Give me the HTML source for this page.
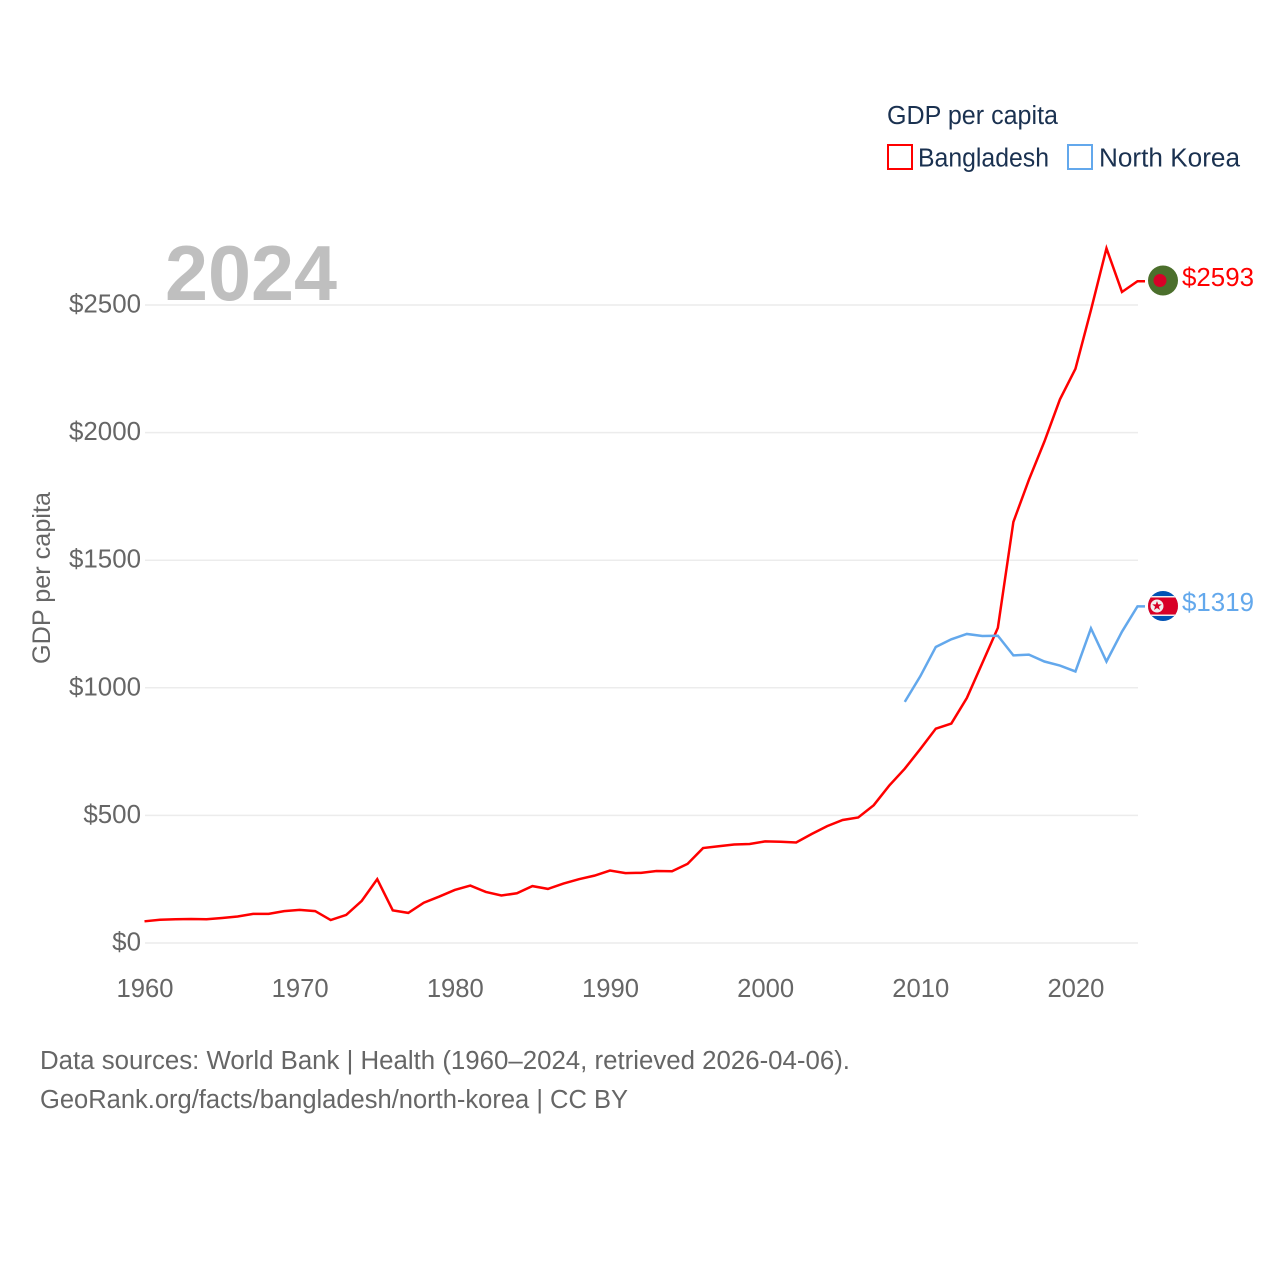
<!DOCTYPE html>
<html lang="en">
<head>
<meta charset="utf-8">
<title>GDP per capita: Bangladesh and North Korea</title>
<style>
html,body{margin:0;padding:0;background:#fff}
svg{display:block}
text{font-family:"Liberation Sans",sans-serif}
</style>
</head>
<body>
<svg id="chart" xmlns="http://www.w3.org/2000/svg" width="1280" height="1280" viewBox="0 0 1280 1280">
  <rect width="1280" height="1280" fill="#fff"/>
  <g id="grid"></g>
  <g id="yticks"></g>
  <g id="xticks"></g>
  <text x="165" y="300" font-size="78" font-weight="700" fill="#bfbfbf" textLength="172" lengthAdjust="spacingAndGlyphs">2024</text>
  <text transform="translate(50,664) rotate(-90)" font-size="25" fill="#666" textLength="172" lengthAdjust="spacingAndGlyphs">GDP per capita</text>
  <g id="series"></g>

  <g>
    <circle cx="1163" cy="280.5" r="15" fill="#4b6f2c"/>
    <circle cx="1160" cy="280.5" r="6.5" fill="#d80027"/>
  </g>
  <g>
    <clipPath id="nk-clip"><circle cx="1163" cy="606" r="15"/></clipPath>
    <g clip-path="url(#nk-clip)">
      <rect x="1148" y="591" width="30" height="30" fill="#0052b4"/>
      <rect x="1148" y="596" width="30" height="20" fill="#f0f0f0"/>
      <rect x="1148" y="597.5" width="30" height="17" fill="#d80027"/>
    </g>
    <circle cx="1157" cy="606" r="6.5" fill="#f0f0f0"/>
    <polygon points="1157,601 1158.2,604.4 1161.8,604.4 1158.9,606.6 1160,610 1157,608 1154,610 1155.1,606.6 1152.2,604.4 1155.8,604.4" fill="#d80027"/>
  </g>
  <text x="1182" y="286" font-size="25.5" fill="#ff0000" textLength="72" lengthAdjust="spacingAndGlyphs">$2593</text>
  <text x="1182" y="611" font-size="25.5" fill="#63a8ec" textLength="72" lengthAdjust="spacingAndGlyphs">$1319</text>

  <text x="887" y="124" font-size="25.5" fill="#1a3150" textLength="171" lengthAdjust="spacingAndGlyphs">GDP per capita</text>
  <g>
    <rect x="888" y="145" width="24" height="24" fill="#fff" stroke="#ff0000" stroke-width="2"/>
    <text x="918" y="166.500" font-size="25.5" fill="#1a3150" textLength="131" lengthAdjust="spacingAndGlyphs">Bangladesh</text>
  </g>
  <g>
    <rect x="1068" y="145" width="24" height="24" fill="#fff" stroke="#63a8ec" stroke-width="2"/>
    <text x="1099" y="166.500" font-size="25.5" fill="#1a3150" textLength="141" lengthAdjust="spacingAndGlyphs">North Korea</text>
  </g>

  <text x="40" y="1069" font-size="25.5" fill="#666" textLength="810" lengthAdjust="spacingAndGlyphs">Data sources: World Bank | Health (1960–2024, retrieved 2026-04-06).</text>
  <text x="40" y="1108" font-size="25.5" fill="#666" textLength="588" lengthAdjust="spacingAndGlyphs">GeoRank.org/facts/bangladesh/north-korea | CC BY</text>
</svg>
<script>
const xTickYears = [1960, 1970, 1980, 1990, 2000, 2010, 2020];
const yTickValues = [0, 500, 1000, 1500, 2000, 2500];
const bangladeshStartYear = 1960;
const bangladeshValues = [85, 91, 93, 94, 93, 98, 104, 114, 114, 125, 130, 125, 90, 110, 165, 250, 128, 118, 158, 182, 208, 225, 200, 186, 195, 223, 212, 233, 250, 264, 284, 274, 275, 282, 281, 310, 372, 379, 386, 388, 398, 397, 394, 427, 458, 482, 492, 540, 617, 683, 760, 840, 860, 960, 1097, 1235, 1650, 1815, 1965, 2130, 2250, 2480, 2722, 2551, 2593];
const northKoreaStartYear = 2009;
const northKoreaValues = [945, 1045, 1160, 1190, 1211, 1203, 1204, 1127, 1130, 1103, 1087, 1064, 1233, 1103, 1220, 1319];

const NS = 'http://www.w3.org/2000/svg';
function tickX(year) { return 145 + (year - 1960) * (1138 - 145) / 64; }
function xScale(year) { return 144.5 + (year - 1960) * (1137.5 - 144.5) / 64; }
function yScale(value) { return 943 - value * (943 - 305) / 2500; }

const gridGroup = document.getElementById('grid');
const yTickGroup = document.getElementById('yticks');
const xTickGroup = document.getElementById('xticks');
const seriesGroup = document.getElementById('series');

yTickValues.forEach(function (v) {
  const line = document.createElementNS(NS, 'line');
  
  
  line.setAttribute('x1', 145);
  line.setAttribute('x2', 1138);
  line.setAttribute('y1', yScale(v));
  line.setAttribute('y2', yScale(v));
  line.setAttribute('stroke', '#ececec');
  line.setAttribute('stroke-width', '1.5');
  gridGroup.appendChild(line);

  const label = document.createElementNS(NS, 'text');
  
  
  const str = '$' + v;
  label.textContent = str;
  label.setAttribute('x', 141 - (str.length * 14.4));
  label.setAttribute('y', yScale(v) + 7.5);
  label.setAttribute('font-size', '25.5');
  label.setAttribute('fill', '#666');
  label.setAttribute('textLength', str.length * 14.4);
  label.setAttribute('lengthAdjust', 'spacingAndGlyphs');
  yTickGroup.appendChild(label);
});

xTickYears.forEach(function (year) {
  const label = document.createElementNS(NS, 'text');
  
  
  label.textContent = String(year);
  label.setAttribute('x', tickX(year) - 28.5);
  label.setAttribute('y', 997);
  label.setAttribute('font-size', '25.5');
  label.setAttribute('fill', '#666');
  label.setAttribute('textLength', '57');
  label.setAttribute('lengthAdjust', 'spacingAndGlyphs');
  xTickGroup.appendChild(label);
});

function seriesPoints(startYear, values) {
  const pts = values.map(function (v, i) {
    return xScale(startYear + i).toFixed(2) + ',' + yScale(v).toFixed(2);
  });
  pts.push('1145,' + yScale(values[values.length - 1]).toFixed(2));
  return pts.join(' ');
}

const bangladeshLine = document.createElementNS(NS, 'polyline');


bangladeshLine.setAttribute('points', seriesPoints(bangladeshStartYear, bangladeshValues));
bangladeshLine.setAttribute('fill', 'none');
bangladeshLine.setAttribute('stroke', '#ff0000');
bangladeshLine.setAttribute('stroke-width', '2.5');
seriesGroup.appendChild(bangladeshLine);

const northKoreaLine = document.createElementNS(NS, 'polyline');


northKoreaLine.setAttribute('points', seriesPoints(northKoreaStartYear, northKoreaValues));
northKoreaLine.setAttribute('fill', 'none');
northKoreaLine.setAttribute('stroke', '#63a8ec');
northKoreaLine.setAttribute('stroke-width', '2.5');
seriesGroup.appendChild(northKoreaLine);
</script>
</body>
</html>
